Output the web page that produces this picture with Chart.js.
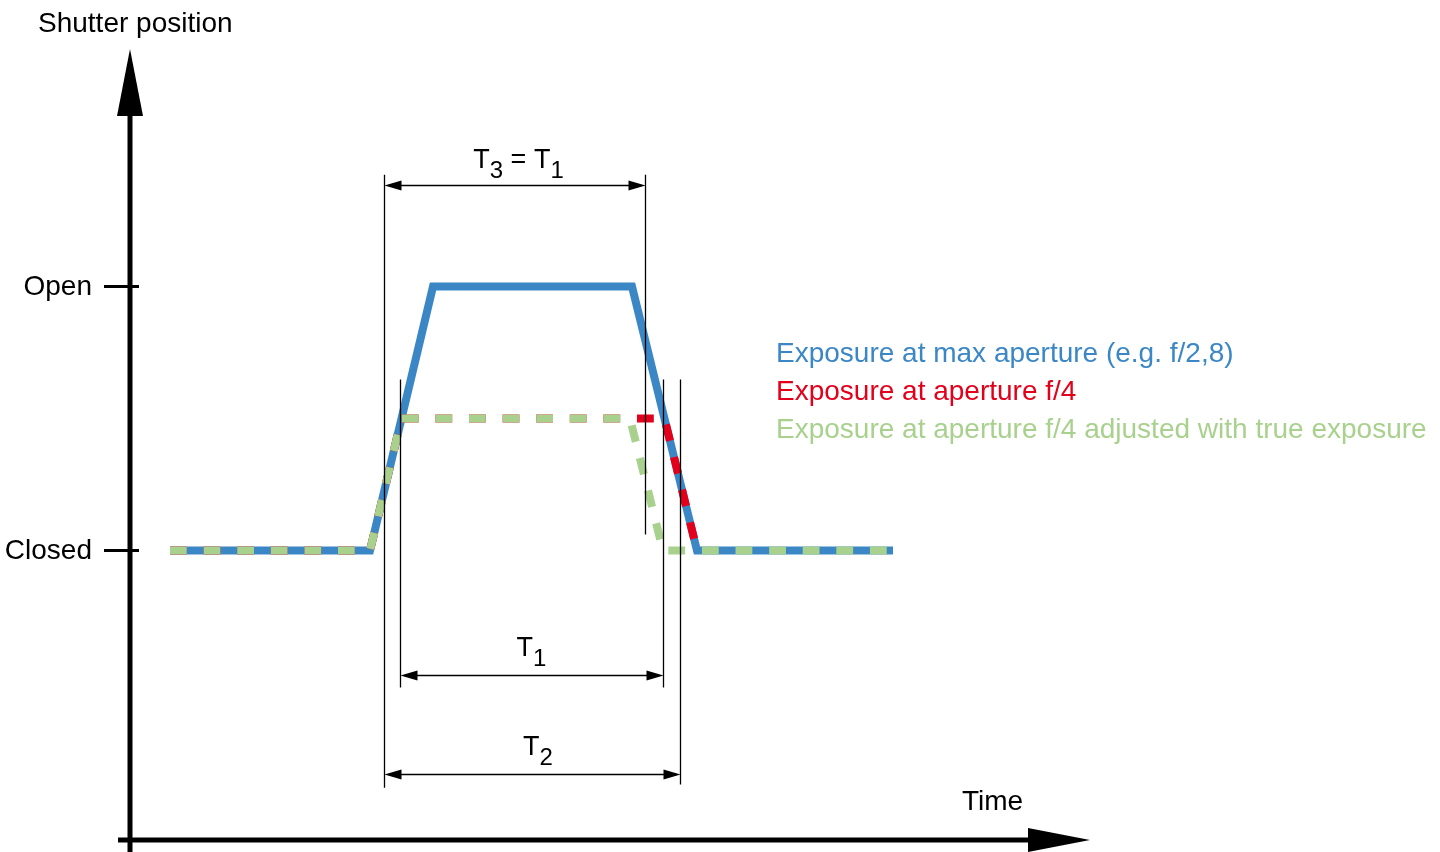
<!DOCTYPE html>
<html>
<head>
<meta charset="utf-8">
<script src="https://cdn.jsdelivr.net/npm/chart.js@4/dist/chart.umd.min.js"></script>
<style>
  html, body { margin: 0; padding: 0; background: #fff; }
  #wrap { width: 1440px; height: 852px; }
</style>
</head>
<body>
<div id="wrap"><canvas id="c" width="1440" height="852"></canvas></div>
<script>
// ---- data (time units, shutter position: 0 = Closed, 1 = Open) ----
const seriesNames = [
  'Exposure at max aperture (e.g. f/2,8)',
  'Exposure at aperture f/4',
  'Exposure at aperture f/4 adjusted with true exposure'
];
const maxApertureTime = [4, 24, 30.3, 50.2, 56.7, 76.3];
const maxAperturePos  = [0, 0, 1, 1, 0, 0];
const f4Time = [4, 24, 27.15, 53.45, 56.7];
const f4Pos  = [0, 0, 0.5, 0.5, 0];
const f4AdjTime = [4, 24, 27.15, 50, 53.3, 76.3];
const f4AdjPos  = [0, 0, 0.5, 0.5, 0, 0];
const yTickValues = [0, 1];
const yTickLabels = ['Closed', 'Open'];
const xAxisTitle = 'Time';
const yAxisTitle = 'Shutter position';
// interval markers: [start, end]
const intervalT3 = [25.4, 51.5];
const intervalT1 = [27, 53.3];
const intervalT2 = [25.4, 55];

const colors = ['#3b87c6', '#e3001b', '#a9d18e'];
const FONT = '"Liberation Sans", Arial, Helvetica, sans-serif';

function pts(xs, ys) { return xs.map((v, i) => ({ x: v, y: ys[i] })); }

const overlay = {
  id: 'overlay',
  afterDatasetsDraw(chart) {
    const { ctx, chartArea: ca, scales: { x, y } } = chart;
    const px = v => x.getPixelForValue(v);
    const py = v => y.getPixelForValue(v);
    ctx.save();

    // ---- axes with arrows ----
    ctx.fillStyle = '#000';
    ctx.strokeStyle = '#000';
    ctx.lineWidth = 5;
    const ax = ca.left, ay = ca.bottom - 1;
    ctx.beginPath();
    ctx.moveTo(ax, 852); ctx.lineTo(ax, ca.top + 60);
    ctx.moveTo(ax - 12, ay); ctx.lineTo(ca.right - 58, ay);
    ctx.stroke();
    ctx.beginPath();
    ctx.moveTo(ax, ca.top); ctx.lineTo(ax - 13, ca.top + 67); ctx.lineTo(ax + 13, ca.top + 67); ctx.closePath();
    ctx.fill();
    ctx.beginPath();
    ctx.moveTo(ca.right, ay); ctx.lineTo(ca.right - 62, ay - 12); ctx.lineTo(ca.right - 62, ay + 12); ctx.closePath();
    ctx.fill();

    // ticks + labels
    ctx.lineWidth = 3;
    ctx.font = '28px ' + FONT;
    ctx.textAlign = 'right';
    ctx.textBaseline = 'middle';
    yTickValues.forEach((v, i) => {
      const yy = py(v);
      ctx.beginPath(); ctx.moveTo(ax - 26, yy); ctx.lineTo(ax + 9, yy); ctx.stroke();
      ctx.fillText(yTickLabels[i], ax - 38, yy + 1);
    });
    ctx.textAlign = 'left';
    ctx.fillText(yAxisTitle, ax - 92, 24);
    ctx.fillText(xAxisTitle, px(83.2), ay - 38);

    // ---- interval markers ----
    ctx.lineWidth = 1.3;
    const vline = (t, v0, v1) => {
      ctx.beginPath(); ctx.moveTo(Math.round(px(t)) + 0.5, py(v0)); ctx.lineTo(Math.round(px(t)) + 0.5, py(v1)); ctx.stroke();
    };
    vline(intervalT3[0], 1.424, -0.898);
    vline(intervalT3[1], 1.424, 0.061);
    vline(intervalT1[0], 0.648, -0.519);
    vline(intervalT1[1], 0.648, -0.519);
    vline(intervalT2[1], 0.648, -0.886);

    const arrow = (t0, t1, v) => {
      const x0 = Math.round(px(t0)) + 0.5, x1 = Math.round(px(t1)) + 0.5, yy = Math.round(py(v)) + 0.5;
      ctx.beginPath(); ctx.moveTo(x0 + 4, yy); ctx.lineTo(x1 - 4, yy); ctx.stroke();
      ctx.beginPath(); ctx.moveTo(x0, yy); ctx.lineTo(x0 + 17, yy - 5); ctx.lineTo(x0 + 17, yy + 5); ctx.closePath(); ctx.fill();
      ctx.beginPath(); ctx.moveTo(x1, yy); ctx.lineTo(x1 - 17, yy - 5); ctx.lineTo(x1 - 17, yy + 5); ctx.closePath(); ctx.fill();
      return yy;
    };
    const subLabel = (parts, cx, base) => {
      // parts: [text, isSub]
      const big = '27px ' + FONT, small = '24px ' + FONT;
      let w = 0;
      parts.forEach(([t, s]) => { ctx.font = s ? small : big; w += ctx.measureText(t).width; });
      let xx = cx - w / 2;
      ctx.textAlign = 'left';
      ctx.textBaseline = 'alphabetic';
      parts.forEach(([t, s]) => {
        ctx.font = s ? small : big;
        ctx.fillText(t, xx, s ? base + 10 : base);
        xx += ctx.measureText(t).width;
      });
    };
    let yy = arrow(intervalT3[0], intervalT3[1], 1.383);
    subLabel([['T', 0], ['3', 1], [' = ', 0], ['T', 0], ['1', 1]], (px(intervalT3[0]) + px(intervalT3[1])) / 2 + 4, yy - 18);
    yy = arrow(intervalT1[0], intervalT1[1], -0.473);
    subLabel([['T', 0], ['1', 1]], (px(intervalT1[0]) + px(intervalT1[1])) / 2, yy - 20);
    yy = arrow(intervalT2[0], intervalT2[1], -0.848);
    subLabel([['T', 0], ['2', 1]], (px(intervalT2[0]) + px(intervalT2[1])) / 2 + 6, yy - 20);

    // ---- legend ----
    ctx.font = '28px ' + FONT;
    ctx.textAlign = 'left';
    ctx.textBaseline = 'middle';
    seriesNames.forEach((n, i) => {
      ctx.fillStyle = colors[i];
      ctx.fillText(n, px(64.6), py(0.746) + i * 38 + 1);
    });
    ctx.restore();
  }
};

new Chart(document.getElementById('c'), {
  type: 'line',
  data: {
    datasets: [
      { label: seriesNames[0], data: pts(maxApertureTime, maxAperturePos), borderColor: colors[0], borderWidth: 8, order: 3 },
      { label: seriesNames[1], data: pts(f4Time, f4Pos), borderColor: colors[1], borderWidth: 8, borderDash: [16.8, 16.8], order: 2 },
      { label: seriesNames[2], data: pts(f4AdjTime, f4AdjPos), borderColor: colors[2], borderWidth: 8, borderDash: [16.8, 16.8], order: 1 }
    ]
  },
  options: {
    responsive: false,
    animation: false,
    devicePixelRatio: 1,
    layout: { padding: { left: 130, right: 350, top: 49, bottom: 11 } },
    elements: { point: { radius: 0, hoverRadius: 0 }, line: { tension: 0, borderCapStyle: 'butt', borderJoinStyle: 'miter', fill: false } },
    plugins: { legend: { display: false }, tooltip: { enabled: false } },
    events: [],
    scales: {
      x: { type: 'linear', min: 0, max: 96, display: false },
      y: { type: 'linear', min: -1.1, max: 1.9, display: false }
    }
  },
  plugins: [overlay]
});
</script>
</body>
</html>
